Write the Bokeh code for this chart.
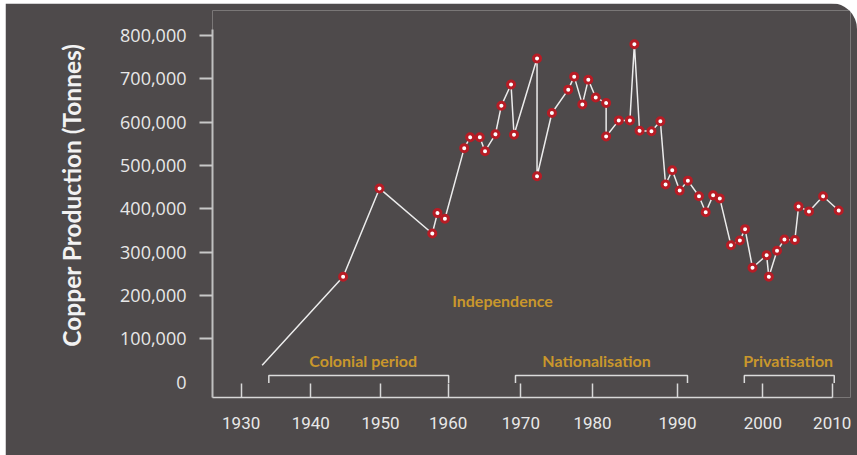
from bokeh.plotting import figure
from bokeh.models import Range1d, FixedTicker, NumeralTickFormatter, Title, InlineStyleSheet
from bokeh.embed import file_html
from bokeh.resources import INLINE
from bokeh.core.properties import value

# ---- data (x positions) ----
years = [1934.0, 1944.9, 1949.8, 1956.9, 1957.6, 1958.6,
         1961.2, 1962.0, 1963.3, 1964.0, 1965.4, 1966.2, 1967.5, 1967.9,
         1971.0, 1971.0, 1973.0, 1975.2, 1976.0, 1977.1, 1977.9, 1978.9,
         1980.3, 1980.3, 1982.0, 1983.5, 1984.1, 1984.8, 1986.4, 1987.6,
         1988.3, 1989.2, 1990.2, 1991.3, 1992.8, 1993.7, 1994.7, 1995.6,
         1997.1, 1998.3, 1999.0, 2000.0, 2001.9, 2002.2, 2003.3, 2004.3,
         2005.7, 2006.2, 2007.6, 2009.5, 2011.6]
production = [39000, 243000, 447000, 343000, 390000, 377000,
              540000, 565000, 565000, 533000, 572000, 638000, 687000, 571000,
              747000, 475000, 621000, 675000, 705000, 641000, 698000, 657000,
              644000, 567000, 604000, 604000, 780000, 580000, 579000, 602000,
              456000, 489000, 442000, 465000, 429000, 392000, 431000, 424000,
              316000, 327000, 353000, 264000, 293000, 243000, 303000, 329000,
              328000, 405000, 394000, 429000, 396000]

# decade ticks as drawn on the original (slightly uneven) time axis
x_tick_pos = [1931.18, 1940.55, 1949.93, 1959.04, 1968.82, 1978.47, 1989.91, 2001.39, 2010.73]
x_tick_labels = ["1930", "1940", "1950", "1960", "1970", "1980", "1990", "2000", "2010"]
y_ticks = [0, 100000, 200000, 300000, 400000, 500000, 600000, 700000, 800000]

period_names = ["Colonial period", "Independence", "Nationalisation", "Privatisation"]
period_label_x = [1947.6, 1966.35, 1979.0, 2004.8]
period_label_y = [49000, 188000, 49000, 49000]
bracket_start = [1934.9, 1968.1, 1998.9]
bracket_end = [1959.1, 1991.25, 2011.0]

BG = "#4e4a4b"
GOLD = "#c9972c"
RED = "#b71c25"

p = figure(width=852, height=452, output_backend="svg", toolbar_location=None,
           x_range=Range1d(1927.32, 2013.19), y_range=Range1d(-35600, 857700),
           min_border_left=207, min_border_right=7, min_border_top=7,
           min_border_bottom=58, background_fill_color=BG, border_fill_color=BG,
           outline_line_color=None)
p.grid.visible = False
p.stylesheets = [InlineStyleSheet(css=":host { margin-left: 5px; margin-top: 3px; "
                                      "border-top-right-radius: 26px; overflow: hidden; }")]

# x axis
xa = p.xaxis[0]
xa.ticker = FixedTicker(ticks=x_tick_pos)
xa.major_label_overrides = {pos: lab for pos, lab in zip(x_tick_pos, x_tick_labels)}
xa.bounds = (1925.8, x_tick_pos[-1])
xa.major_tick_in = 14
xa.major_tick_out = 0
xa.major_tick_line_color = "#d8d8d8"
xa.major_tick_line_width = 1.5
xa.minor_tick_line_color = None
xa.axis_line_color = "#d8d8d8"
xa.axis_line_width = 1.5
xa.major_label_text_font = "Roboto"
xa.major_label_text_font_size = "17px"
xa.major_label_text_color = "#e8e8e8"
xa.major_label_standoff = 19

# y axis
ya = p.yaxis[0]
ya.ticker = FixedTicker(ticks=y_ticks, minor_ticks=y_ticks[1:])
ya.bounds = (-59000, 814000)
ya.formatter = NumeralTickFormatter(format="0,0")
ya.major_tick_line_color = None
ya.major_tick_out = 13
ya.major_tick_in = 0
ya.minor_tick_out = 13
ya.minor_tick_in = 0
ya.minor_tick_line_color = "#c8c8c8"
ya.minor_tick_line_width = 2
ya.axis_line_color = "#c0c0c0"
ya.axis_line_width = 2
ya.major_label_text_font = "Open Sans"
ya.major_label_text_font_size = "18px"
ya.major_label_text_color = "#e8e8e8"
ya.major_label_standoff = 13

title = Title(text="Copper Production (Tonnes)", align="right", offset=33,
              standoff=64, text_font="Lato", text_font_style="bold",
              text_font_size="24.5px", text_color="#f2f2f2")
p.add_layout(title, "left")

# period brackets
btop, bbot = 15000, -2300
p.multi_line(xs=[[s, s, e, e] for s, e in zip(bracket_start, bracket_end)],
             ys=[[bbot, btop, btop, bbot] for _ in bracket_start],
             line_color="#dcdcdc", line_width=1.5)
p.text(x=period_label_x, y=period_label_y, text=period_names,
       text_font=value("Lato"), text_font_style="bold", text_font_size="16px",
       text_color=GOLD, text_align="center", text_baseline="middle")

# data
p.line(years, production, line_color="#ececec", line_width=1.5)
p.scatter(years[1:], production[1:], size=7, fill_color="white",
          line_color=RED, line_width=3)

open("out.html", "w").write(file_html(p, INLINE))
